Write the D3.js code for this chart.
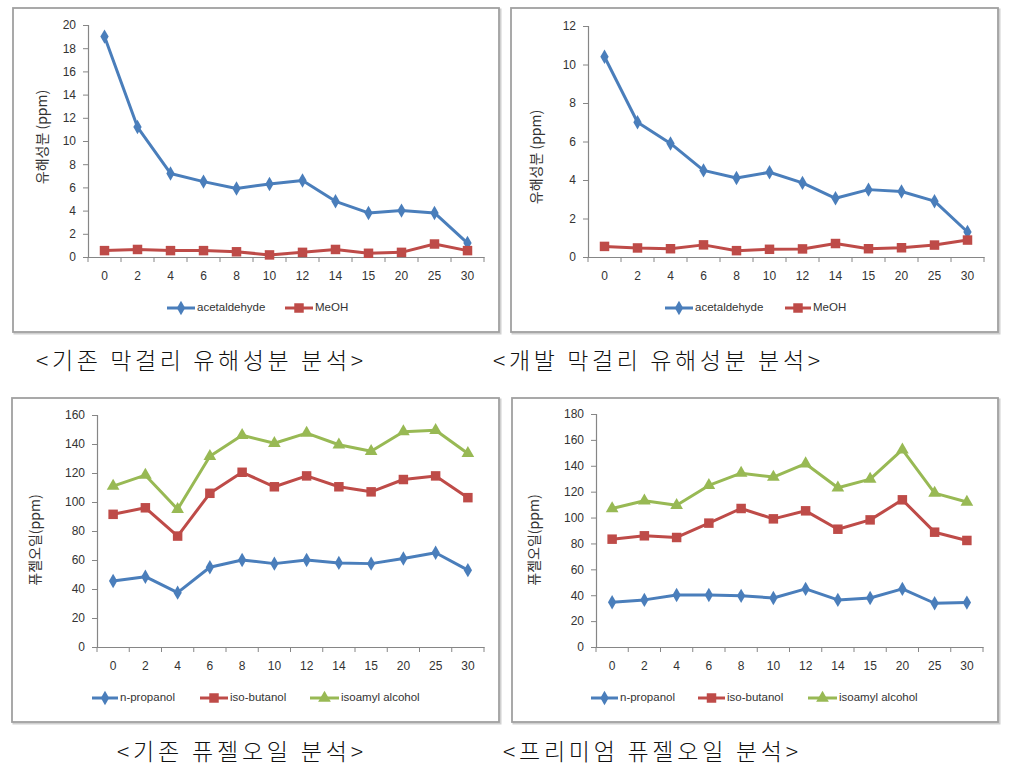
<!DOCTYPE html>
<html><head><meta charset="utf-8">
<script src="https://cdn.jsdelivr.net/npm/d3@7"></script>
<style>body{margin:0;background:#fff}svg{display:block}</style>
</head><body>
<svg id="c" width="1012" height="777"></svg>
<script>
const categories = ["0","2","4","6","8","10","12","14","15","20","25","30"];
// Panel 1: 기존 막걸리
const p1Acetaldehyde = [19.0,11.2,7.2,6.5,5.9,6.3,6.6,4.8,3.8,4.0,3.8,1.2];
const p1MeOH = [0.55,0.65,0.55,0.55,0.45,0.18,0.4,0.65,0.32,0.4,1.12,0.55];
// Panel 2: 개발 막걸리
const p2Acetaldehyde = [10.4,7.0,5.9,4.5,4.1,4.4,3.85,3.05,3.5,3.4,2.9,1.3];
const p2MeOH = [0.55,0.47,0.43,0.63,0.33,0.4,0.42,0.7,0.43,0.48,0.62,0.88];
// Panel 3: 기존 퓨젤오일
const p3Propanol = [45.5,48.5,37.5,55,60,57.5,60,58,57.5,61,65,53];
const p3Butanol = [91.5,96,76.5,106,120.5,110.5,118,110.5,107,115.5,118,103];
const p3Isoamyl = [111,118.5,95,131.5,146,140.5,147.5,139.5,135,148.5,149.5,133.5];
// Panel 4: 프리미엄 퓨젤오일
const p4Propanol = [34.6,36.4,40.2,40.2,39.5,37.9,44.9,36.4,37.9,44.9,33.8,34.3];
const p4Butanol = [83.3,85.9,84.6,95.7,107,99,105.2,91,98.2,113.7,88.7,82.3];
const p4Isoamyl = [107,113,109.5,124.8,134.3,131.3,141.6,123,129.7,152.4,118.9,112];

const yTitles = ["유해성분 (ppm)","퓨젤오일(ppm)"];
const captions = ["<기존 막걸리 유해성분 분석>","<개발 막걸리 유해성분 분석>","<기존 퓨젤오일 분석>","<프리미엄 퓨젤오일 분석>"];
const legendNames = ["acetaldehyde","MeOH","n-propanol","iso-butanol","isoamyl alcohol"];
const yMax = [20, 12, 160, 180];
const yStep = [2, 2, 20, 20];

const BLUE="#4a7ebb", RED="#be4b48", GREEN="#98b954";
const styles = {
  diamond:{color:BLUE, sym:d3.symbolDiamond, size:60},
  square:{color:RED, sym:d3.symbolSquare, size:90},
  triangle:{color:GREEN, sym:d3.symbolTriangle, size:70}
};

const panels = [
  {frame:[13,8,486,324], plot:[88,484,25,257], max:yMax[0], step:yStep[0], ytitle:yTitles[0], ytx:43, yty:137,
   series:[{v:p1Acetaldehyde,s:"diamond",n:legendNames[0]},{v:p1MeOH,s:"square",n:legendNames[1]}],
   legendY:308, legend:[[167,197],[285,315]], cap:captions[0], capX:[36,363], capY:363},
  {frame:[511,8,487,324], plot:[588,984,26,257], max:yMax[1], step:yStep[1], ytitle:yTitles[0], ytx:537, yty:157,
   series:[{v:p2Acetaldehyde,s:"diamond",n:legendNames[0]},{v:p2MeOH,s:"square",n:legendNames[1]}],
   legendY:308, legend:[[665,695],[785,813]], cap:captions[1], capX:[493,820], capY:363},
  {frame:[12,398,487,324], plot:[97,484,415,647], max:yMax[2], step:yStep[2], ytitle:yTitles[1], ytx:36, yty:540,
   series:[{v:p3Propanol,s:"diamond",n:legendNames[2]},{v:p3Butanol,s:"square",n:legendNames[3]},{v:p3Isoamyl,s:"triangle",n:legendNames[4]}],
   legendY:698, legend:[[92,120],[200,230],[310,341]], cap:captions[2], capX:[117,363], capY:754},
  {frame:[512,398,486,324], plot:[596,983,414,647], max:yMax[3], step:yStep[3], ytitle:yTitles[1], ytx:535, yty:540,
   series:[{v:p4Propanol,s:"diamond",n:legendNames[2]},{v:p4Butanol,s:"square",n:legendNames[3]},{v:p4Isoamyl,s:"triangle",n:legendNames[4]}],
   legendY:698, legend:[[591,620],[698,727],[808,839]], cap:captions[3], capX:[503,798], capY:754}
];

const svg = d3.select("#c");
const NUMFONT = "'Liberation Sans', Arial, sans-serif";
const KFONT = "'Noto Sans CJK KR', sans-serif";

panels.forEach(p => {
  const g = svg.append("g");
  const [fx,fy,fw,fh] = p.frame;
  g.append("rect").attr("x",fx+1.5).attr("y",fy+1.5).attr("width",fw).attr("height",fh)
    .attr("fill","none").attr("stroke","#d0d0d0").attr("stroke-width",2);
  g.append("rect").attr("x",fx).attr("y",fy).attr("width",fw).attr("height",fh)
    .attr("fill","#fff").attr("stroke","#a0a0a0").attr("stroke-width",1.8);

  const [x0,x1,yT,yB] = p.plot;
  const x = d3.scaleBand().domain(categories).range([x0,x1]);
  const y = d3.scaleLinear().domain([0,p.max]).range([yB,yT]);
  const cx = c => x(c) + x.bandwidth()/2;

  // y axis
  const ya = g.append("g").attr("transform",`translate(${x0},0)`)
    .call(d3.axisLeft(y).tickValues(d3.range(0,p.max+p.step/2,p.step)).tickSize(5).tickPadding(7).tickFormat(d3.format("d")));
  ya.select(".domain").attr("stroke","#868686").attr("stroke-width",1.2);
  ya.selectAll(".tick line").attr("stroke","#868686");
  ya.selectAll(".tick text").attr("fill","#333").style("font-family",NUMFONT).style("font-size","12px");

  // x axis
  const xa = g.append("g").attr("transform",`translate(0,${yB})`)
    .call(d3.axisBottom(x).tickSize(0).tickPadding(14));
  xa.select(".domain").attr("stroke","#868686").attr("stroke-width",1.2);
  xa.selectAll(".tick text").attr("fill","#333").style("font-family",NUMFONT).style("font-size","12px");
  const bounds = categories.map(c => x(c)).concat([x1]);
  xa.selectAll("line.bt").data(bounds).join("line").attr("class","bt")
    .attr("x1",d=>d).attr("x2",d=>d).attr("y1",0).attr("y2",5).attr("stroke","#868686");

  // y title
  g.append("text").attr("transform",`translate(${p.ytx},${p.yty}) rotate(-90)`)
    .attr("text-anchor","middle").attr("dominant-baseline","middle")
    .style("font-family",KFONT).style("font-size","14px").attr("fill","#333").text(p.ytitle);

  // series
  const line = d3.line().x((d,i)=>cx(categories[i])).y(d=>y(d));
  p.series.forEach(s => {
    const st = styles[s.s];
    g.append("path").attr("d",line(s.v)).attr("fill","none").attr("stroke",st.color)
      .attr("stroke-width",3).attr("stroke-linejoin","round");
    g.selectAll(null).data(s.v).join("path")
      .attr("transform",(d,i)=>`translate(${cx(categories[i])},${y(d)})`)
      .attr("d",d3.symbol(st.sym,st.size)).attr("fill",st.color);
  });

  // legend
  p.series.forEach((s,i) => {
    const st = styles[s.s];
    const [lx,tx] = p.legend[i];
    g.append("line").attr("x1",lx).attr("x2",tx-2).attr("y1",p.legendY).attr("y2",p.legendY)
      .attr("stroke",st.color).attr("stroke-width",3);
    g.append("path").attr("transform",`translate(${(lx+tx-2)/2},${p.legendY})`)
      .attr("d",d3.symbol(st.sym,st.size)).attr("fill",st.color);
    g.append("text").attr("x",tx).attr("y",p.legendY).attr("dominant-baseline","middle")
      .style("font-family",NUMFONT).style("font-size","11.5px").attr("fill","#333").text(s.n);
  });

  // caption
  svg.append("text").attr("x",p.capX[0]).attr("y",p.capY).attr("dominant-baseline","middle")
    .attr("textLength",p.capX[1]-p.capX[0]).attr("lengthAdjust","spacing")
    .style("font-family",KFONT).style("font-size","23px").style("font-weight","300").attr("fill","#111").text(p.cap);
});
</script>
</body></html>
